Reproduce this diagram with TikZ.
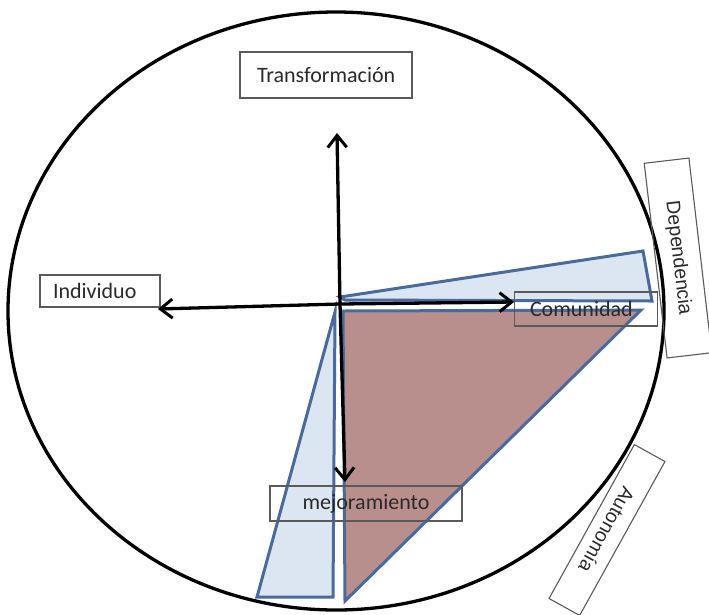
\documentclass[tikz,border=0pt]{standalone}
\usepackage{fontspec}
\setmainfont{Carlito}
\newfontfamily\arialf{Liberation Sans}
\usetikzlibrary{arrows.meta}
\definecolor{polyedge}{HTML}{4A6A9C}
\definecolor{lightfill}{HTML}{DCE6F2}
\definecolor{brownfill}{HTML}{B98F8D}
\definecolor{boxedge}{HTML}{5A5A5A}
\definecolor{txt}{HTML}{2A2A2A}
\tikzset{
  labelbox/.style={draw=boxedge, line width=1.1pt, text=txt, inner sep=0pt,
    font=\fontsize{22}{24}\selectfont},
  rotbox/.style={labelbox, font=\arialf\fontsize{19.5}{22}\selectfont},
  poly/.style={draw=polyedge, line width=3pt, line join=miter},
  axis/.style={line width=3.3pt, black, -{Straight Barb[length=12pt,width=19pt,line width=3pt]}},
}
\begin{document}
\begin{tikzpicture}[x=1pt,y=-1pt]
\useasboundingbox[fill=white] (0,0) rectangle (709,614);
% outer ellipse
\draw[line width=3.3pt] (336,311) ellipse [x radius=328, y radius=299];
% polygons
\draw[poly, fill=lightfill] (340,297) -- (643,251) -- (652,301) -- (345,300) -- cycle;
\draw[poly, fill=brownfill] (343,311) -- (641,310) -- (345,601) -- cycle;
\draw[poly, fill=lightfill] (335,312) -- (257,597) -- (333,597) -- cycle;
% label boxes
\node[labelbox, minimum width=172pt, minimum height=46pt, text width=138pt, align=left] (trans) at (326,75) {Transformación};
\node[labelbox, minimum width=120pt, minimum height=32pt, text width=94pt, align=left] (indiv) at (100,291) {Individuo};
\node[labelbox, minimum width=143pt, minimum height=34pt, text width=112pt, align=left] (comun) at (586,309) {Comunidad};
\node[labelbox, minimum width=192pt, minimum height=35pt] (mejor) at (366,503.5) {mejoramiento};
\node[rotbox, minimum width=196pt, minimum height=45pt, rotate=-83.3] (depen) at (678,258) {Dependencia};
\node[rotbox, minimum width=176pt, minimum height=35pt, rotate=-119] (auton) at (607,530) {Autonomía};
% axes
\coordinate (O) at (340,304);
\coordinate (up) at (337,133);
\coordinate (left) at (158,309);
\coordinate (right) at (514,302);
\coordinate (down) at (345,482);
\draw[axis] (O) -- (up);
\draw[axis] (O) -- (left);
\draw[axis] (O) -- (right);
\draw[axis] (O) -- (down);
\end{tikzpicture}
\end{document}
